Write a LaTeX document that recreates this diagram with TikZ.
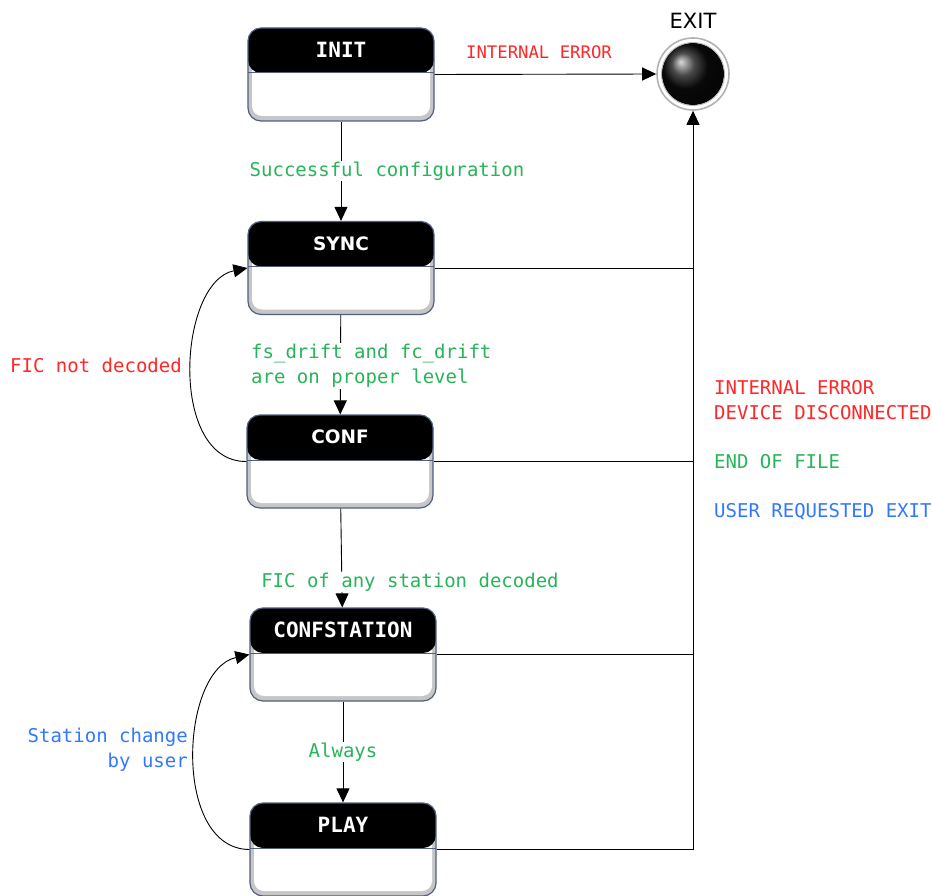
\documentclass[tikz,border=0pt]{standalone}
\usepackage{fontspec}
\setmainfont{DejaVu Sans}
\setsansfont{DejaVu Sans}
\setmonofont{DejaVu Sans Mono}
\usetikzlibrary{arrows.meta,calc}
\definecolor{errred}{RGB}{255,40,40}
\definecolor{okgreen}{RGB}{40,180,90}
\definecolor{userblue}{RGB}{50,120,255}
\definecolor{boxedge}{RGB}{80,95,130}
\tikzset{
  titletext/.style={text=white, font=\ttfamily\bfseries\fontsize{21}{24}\selectfont, inner sep=0pt},
  titlesans/.style={text=white, font=\sffamily\bfseries\fontsize{18.5}{22}\selectfont, inner sep=0pt},
  statebox/.style 2 args={rectangle, rounded corners=13pt, minimum width=186pt, minimum height=93pt,
    draw=boxedge, line width=1.2pt, fill=gray!45, inner sep=0pt,
    path picture={
      \fill[white, rounded corners=10pt] ([shift={(4pt,5pt)}]path picture bounding box.south west)
         rectangle ([shift={(-4pt,-30pt)}]path picture bounding box.north east);
      \fill[black] (path picture bounding box.north west) rectangle ([yshift=-45pt]path picture bounding box.north east);
      \draw[boxedge, line width=1pt] ([yshift=-45pt]path picture bounding box.north west) -- ([yshift=-45pt]path picture bounding box.north east);
      \node[#2] at ([yshift=-22pt]path picture bounding box.north) {#1};
    }},
  flow/.style={draw=black, line width=0.9pt, -{Triangle[length=14pt,width=13pt]}},
  plain/.style={draw=black, line width=0.9pt},
  lbl/.style={font=\ttfamily\fontsize{19}{25}\selectfont, inner sep=1pt},
  lblsmall/.style={font=\ttfamily\fontsize{17.3}{22}\selectfont, inner sep=1pt},
}
\begin{document}
\begin{tikzpicture}[x=1pt,y=-1pt]
\useasboundingbox (0,0) rectangle (932,896);
\fill[white] (0,0) rectangle (932,896);

% states
\node[statebox={INIT}{titletext}] (init) at (341,74.5) {};
\node[statebox={SYNC}{titlesans}] (sync) at (341,268) {};
\node[statebox={CONF}{titlesans}] (conf) at (340,461.5) {};
\node[statebox={CONFSTATION}{titletext}] (confst) at (343,654.5) {};
\node[statebox={PLAY}{titletext}] (play) at (343,849.5) {};

% exit
\node[circle, minimum size=72pt, draw=gray!60, line width=1.6pt, fill=white, inner sep=0pt] (exit) at (693,74) {};
\shade[ball color=black!95] (exit.center) circle (31pt);
\draw[gray!60, line width=0.8pt] (exit.center) circle (31.5pt);
\node[font=\sffamily\fontsize{21}{24}\selectfont, inner sep=0pt] (exitlbl) at (693,21) {EXIT};

% main flow
\draw[flow] (init) -- (sync);
\draw[flow] (sync) -- (conf);
\draw[flow] (conf) -- (confst);
\draw[flow] (confst) -- (play);

% loops
\draw[flow] (conf.west) .. controls (168,462) and (178,282) .. (sync.west);
\draw[flow] (play.west) .. controls (172,849) and (180,670) .. (confst.west);

% exits
\draw[flow] (init.east) -- (exit.west);
\draw[plain] (sync.east) -- (sync.east -| exit.center);
\draw[plain] (conf.east) -- (conf.east -| exit.center);
\draw[plain] (confst.east) -- (confst.east -| exit.center);
\draw[plain] (play.east) -- (play.east -| exit.center);
\draw[flow] (play.east -| exit.center) -- (exit.south);

% labels
\node[lblsmall, text=errred] (l1) at (539,52) {INTERNAL ERROR};
\node[lbl, text=okgreen, fill=white] (l2) at (387,171) {Successful configuration};
\node[lbl, text=okgreen, fill=white, align=left, anchor=west] (l3) at (250,366) {fs\_drift and fc\_drift\\are on proper level};
\node[lbl, text=okgreen, fill=white] (l4) at (410,582) {FIC of any station decoded};
\node[lbl, text=okgreen, fill=white] (l5) at (343,752) {Always};
\node[lbl, text=errred, anchor=east] (l6) at (183,365) {FIC not decoded};
\node[lbl, text=userblue, align=right, anchor=east] (l7) at (189,750) {Station change\\by user};
\node[lbl, text=errred, align=left, anchor=west] (l8) at (713,400) {INTERNAL ERROR\\DEVICE DISCONNECTED};
\node[lbl, text=okgreen, anchor=west] (l9) at (713,462) {END OF FILE};
\node[lbl, text=userblue, anchor=west] (l10) at (713,512) {USER REQUESTED EXIT};
\end{tikzpicture}
\end{document}
